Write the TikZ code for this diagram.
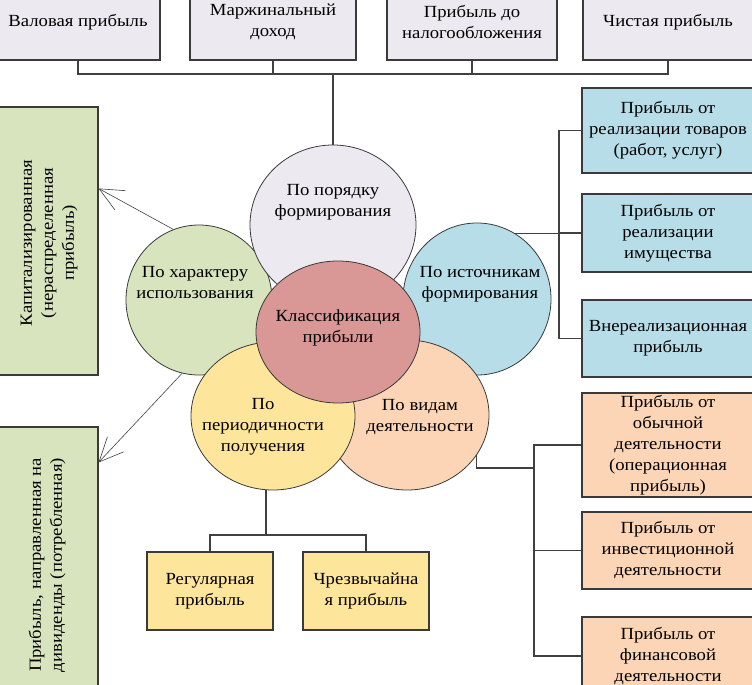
\documentclass[tikz,border=0pt]{standalone}
\usepackage{fontspec}
\setmainfont{Liberation Serif}[FakeStretch=1.1]
\usetikzlibrary{shapes.geometric,arrows.meta,calc}
\definecolor{lav}{HTML}{ECE9F0}
\definecolor{grn}{HTML}{D7E4BD}
\definecolor{blu}{HTML}{B7DEE8}
\definecolor{yel}{HTML}{FEE59C}
\definecolor{pch}{HTML}{FBD5B5}
\definecolor{rd}{HTML}{D99795}
\definecolor{bdr}{HTML}{3A3A3A}
\definecolor{ln}{HTML}{404040}
\newcommand{\txt}{\fontsize{17}{21}\selectfont}
\tikzset{
  box/.style={draw=bdr, line width=1.1pt, align=center, inner sep=0pt, font=\txt},
  circ/.style={ellipse, draw=bdr, line width=0.8pt, inner sep=0pt},
  conn/.style={draw=ln, line width=1.2pt},
  arr/.style={draw=ln, line width=0.6pt, -{Straight Barb[length=24pt,width=22pt,line width=0.6pt]}},
  lbl/.style={align=center, font=\txt, inner sep=0pt}
}
\begin{document}
\begin{tikzpicture}[x=1pt,y=-1pt]
\useasboundingbox (0,0) rectangle (752,685);
\clip (0,0) rectangle (752,685);
% top boxes
\node[box, fill=lav, minimum width=164pt, minimum height=76pt] (tb1) at (78,22) {Валовая прибыль};
\node[box, fill=lav, minimum width=166pt, minimum height=76pt] (tb2) at (273,22) {Маржинальный\\доход};
\node[box, fill=lav, minimum width=170pt, minimum height=76pt] (tb3) at (472,22) {Прибыль до\\налогообложения};
\node[box, fill=lav, minimum width=170pt, minimum height=76pt] (tb4) at (668,22) {Чистая прибыль};
% left green boxes
\node[box, fill=grn, minimum width=100pt, minimum height=268pt] (gb1) at (48,241) {};
\node[lbl, rotate=90] (gb1t) at (49,243) {Капитализированная\\(нераспределенная\\прибыль)};
\node[box, fill=grn, minimum width=100pt, minimum height=278pt] (gb2) at (48,566) {};
\node[lbl, rotate=90] (gb2t) at (47,565) {Прибыль, направленная на\\дивиденды (потребленная)};
% right blue boxes
\node[box, fill=blu, minimum width=172pt, minimum height=85pt] (bb1) at (668,130.5) {Прибыль от\\реализации товаров\\(работ, услуг)};
\node[box, fill=blu, minimum width=172pt, minimum height=78pt] (bb2) at (668,233) {Прибыль от\\реализации\\имущества};
\node[box, fill=blu, minimum width=172pt, minimum height=77pt] (bb3) at (668,338.5) {Внереализационная\\прибыль};
% right peach boxes
\node[box, fill=pch, minimum width=172pt, minimum height=104pt] (pb1) at (668,445) {Прибыль от\\обычной\\деятельности\\(операционная\\прибыль)};
\node[box, fill=pch, minimum width=172pt, minimum height=77pt] (pb2) at (668,550.5) {Прибыль от\\инвестиционной\\деятельности};
\node[box, fill=pch, minimum width=172pt, minimum height=78pt] (pb3) at (668,656) {Прибыль от\\финансовой\\деятельности};
% yellow boxes
\node[box, fill=yel, minimum width=126pt, minimum height=78pt] (yb1) at (210,591) {Регулярная\\прибыль};
\node[box, fill=yel, minimum width=126pt, minimum height=78pt] (yb2) at (366,591) {Чрезвычайна\\я прибыль};
% circles
\node[circ, fill=grn, minimum width=146pt, minimum height=150pt] (cL) at (199,300) {};
\node[circ, fill=blu, minimum width=148pt, minimum height=152pt] (cR) at (477,299) {};
\node[circ, fill=lav, minimum width=166pt, minimum height=160pt] (cTop) at (333,225) {};
\node[circ, fill=pch, minimum width=164pt, minimum height=150pt] (cBR) at (407,415) {};
\node[circ, fill=yel, minimum width=164pt, minimum height=148pt] (cBL) at (273,416) {};
\node[circ, fill=rd, minimum width=164pt, minimum height=142pt] (cC) at (338,332) {};
% circle labels
\node[lbl] (tTop) at (333,202) {По порядку\\формирования};
\node[lbl] (tL) at (195,283) {По характеру\\использования};
\node[lbl] (tR) at (480,284) {По источникам\\формирования};
\node[lbl] (tBL) at (263,427) {По\\периодичности\\получения};
\node[lbl] (tBR) at (420,417) {По видам\\деятельности};
\node[lbl] (tC) at (338,328) {Классификация\\прибыли};
% top connectors
\coordinate (bus) at (333,74);
\draw[conn] (tb1.south) |- (tb4.south |- bus) -- (tb4.south);
\draw[conn] (tb2.south) -- (tb2.south |- bus);
\draw[conn] (tb3.south) -- (tb3.south |- bus);
\draw[conn] (bus) -- (cTop.north);
% right blue connectors
\coordinate (trunkR) at (559,0);
\draw[conn] (cR.60) -- (cR.60 -| trunkR);
\draw[conn] (bb1.west) -- (bb1.west -| trunkR) -- (bb3.west -| trunkR) -- (bb3.west);
\draw[conn] (bb2.west) -- (bb2.west -| trunkR);
% right peach connectors
\coordinate (pjoin) at (534,468);
\draw[conn] (cBR.-30) |- (pjoin);
\draw[conn] (pb1.west) -- (pb1.west -| pjoin) -- (pb3.west -| pjoin) -- (pb3.west);
\draw[conn] (pb2.west) -- (pb2.west -| pjoin);
% yellow connectors
\coordinate (yjoin) at (266,535);
\draw[conn] (cBL.south -| yjoin) -- (yjoin);
\draw[conn] (yb1.north) |- (yjoin) -| (yb2.north);
% arrows to green boxes
\draw[arr] (cL.110) -- ($(gb1.north east)+(0,82)$);
\draw[arr] (cL.257) -- ($(gb2.north east)+(0,36)$);
\end{tikzpicture}
\end{document}
